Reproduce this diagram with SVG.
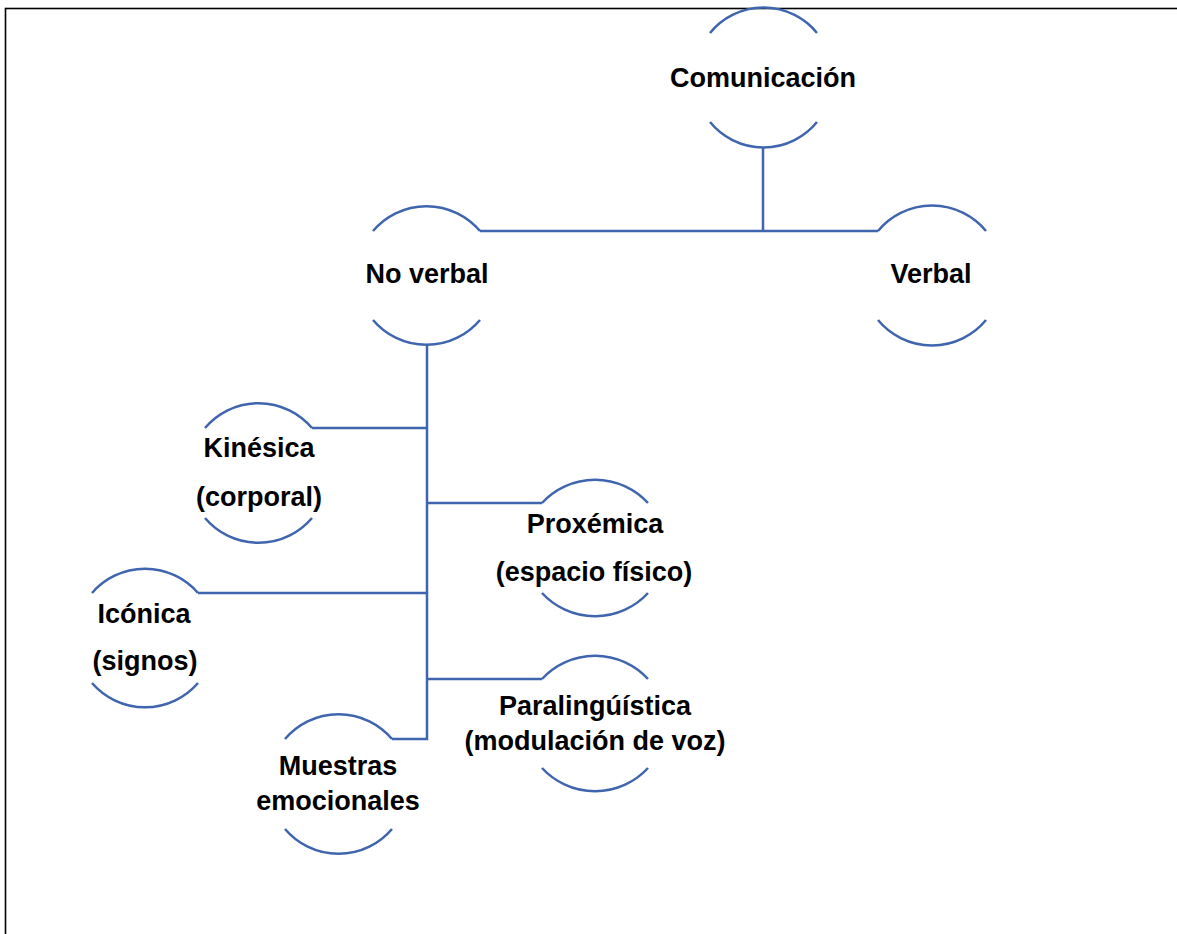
<svg xmlns="http://www.w3.org/2000/svg" width="1177" height="934" viewBox="0 0 1177 934">
<style>
.arc{fill:none;stroke:#3F65AE;stroke-width:2.5}
.con{fill:none;stroke:#3F65AE;stroke-width:2.5}
text{font-family:"Liberation Sans",Arial,sans-serif;font-weight:bold;font-size:27px;fill:#000;text-anchor:middle}
</style>
<rect x="5.5" y="8.5" width="1200" height="1000" fill="#fff" stroke="#000" stroke-width="1.6"/>
<g id="connectors">
<path class="con" d="M763,147 V231"/>
<path class="con" d="M480,231 H878"/>
<path class="con" d="M427,345 V739 H392"/>
<path class="con" d="M312,428 H427"/>
<path class="con" d="M427,503 H542"/>
<path class="con" d="M198,593 H427"/>
<path class="con" d="M427,679 H542"/>
</g>
<g id="comunicacion">
<path class="arc" d="M710,33 A69,69 0 0 1 817,33"/>
<path class="arc" d="M710,122 A69,69 0 0 0 817,122"/>
<text x="763" y="87">Comunicación</text>
</g>
<g id="noverbal">
<path class="arc" d="M373,231 A70,70 0 0 1 480,231"/>
<path class="arc" d="M373,320 A70,70 0 0 0 480,320"/>
<text x="427" y="283">No verbal</text>
</g>
<g id="verbal">
<path class="arc" d="M878,231 A70,70 0 0 1 986,231"/>
<path class="arc" d="M878,320 A70,70 0 0 0 986,320"/>
<text x="931" y="283">Verbal</text>
</g>
<g id="kinesica">
<path class="arc" d="M205,428 A70,70 0 0 1 312,428"/>
<path class="arc" d="M205,518 A70,70 0 0 0 312,518"/>
<text x="259" y="457">Kinésica</text>
<text x="259" y="506">(corporal)</text>
</g>
<g id="proxemica">
<path class="arc" d="M542,503 A72,72 0 0 1 648,503"/>
<path class="arc" d="M542,593 A72,72 0 0 0 648,593"/>
<text x="595" y="533">Proxémica</text>
<text x="594" y="581">(espacio físico)</text>
</g>
<g id="iconica">
<path class="arc" d="M92,593 A70,70 0 0 1 198,593"/>
<path class="arc" d="M92,683 A70,70 0 0 0 198,683"/>
<text x="144" y="623">Icónica</text>
<text x="145" y="670">(signos)</text>
</g>
<g id="paralinguistica">
<path class="arc" d="M542,679 A72,72 0 0 1 648,679"/>
<path class="arc" d="M542,768 A72,72 0 0 0 648,768"/>
<text x="595" y="715">Paralingúística</text>
<text x="595" y="750">(modulación de voz)</text>
</g>
<g id="muestras">
<path class="arc" d="M285,739 A70,70 0 0 1 392,739"/>
<path class="arc" d="M285,829 A70,70 0 0 0 392,829"/>
<text x="338" y="775">Muestras</text>
<text x="338" y="810">emocionales</text>
</g>
</svg>
